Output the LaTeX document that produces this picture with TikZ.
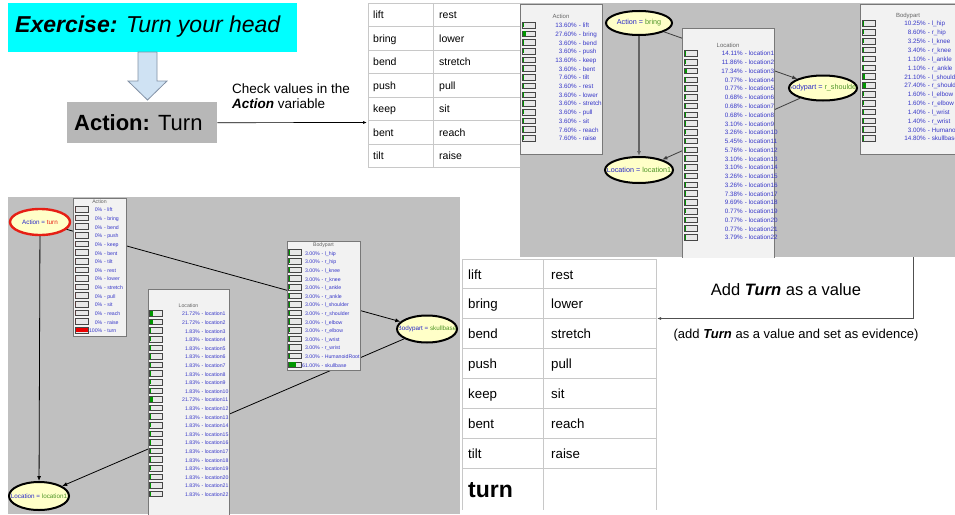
\documentclass[tikz,border=0pt]{standalone}
\usepackage{fontspec}
\setmainfont{Liberation Sans}
\usetikzlibrary{arrows.meta,shapes.geometric}

\definecolor{shotgray}{RGB}{192,192,192}
\definecolor{panelbg}{RGB}{242,242,242}
\definecolor{paneledge}{RGB}{120,120,120}
\definecolor{barbg}{RGB}{232,232,232}
\definecolor{baredge}{RGB}{70,70,70}
\definecolor{bargreen}{RGB}{0,150,0}
\definecolor{barred}{RGB}{235,0,0}
\definecolor{nodeyellow}{RGB}{255,255,200}
\definecolor{nblue}{RGB}{40,40,200}
\definecolor{ngreen}{RGB}{80,150,40}
\definecolor{nred}{RGB}{230,30,20}
\definecolor{pblue}{RGB}{55,55,200}
\definecolor{titlegray}{RGB}{100,100,100}
\definecolor{linkdark}{RGB}{60,60,60}
\definecolor{linkmid}{RGB}{100,100,100}
\definecolor{cyanbox}{RGB}{0,255,255}
\definecolor{arrowfill}{RGB}{207,226,243}
\definecolor{arrowedge}{RGB}{130,145,165}
\definecolor{boxgray}{RGB}{183,183,183}
\definecolor{tblline}{RGB}{200,200,200}
\definecolor{flowgray}{RGB}{80,80,80}

\newcommand\fsz[1]{\fontsize{#1}{#1}\selectfont}
\newcommand\tblue[1]{\textcolor{nblue}{#1}}
\newcommand\tgreen[1]{\textcolor{ngreen}{#1}}
\newcommand\tred[1]{\textcolor{nred}{#1}}

% probability panel frame: name, left, top, width, height
\newcommand\panelbox[5]{\node[panel,minimum width=#4pt,minimum height=#5pt] (#1) at (#2,#3) {};}

% panel rows: prefix, bar x, first row y, row step, value x, bar colour, list, text style
\newcommand\prows[8]{%
  \foreach \p/\n [count=\i from 0] in {#7}{%
    \pgfmathsetmacro\ry{#3+\i*#4}%
    \pgfmathsetmacro\bw{\p*12/100}%
    \draw[pbar] (#2,\ry-2.8) rectangle ++(13,5.6);
    \fill[#6] (#2+0.5,\ry-2.3) rectangle ++(\bw,4.6);
    \node[#8,anchor=mid east] (#1-v\i) at (#5,\ry) {\p\%};
    \node[#8,anchor=mid west] (#1-n\i) at (#5,\ry) {~-~\n};
  }}

% network node: name, x, y, width, height, extra style, label
\newcommand\enode[7]{%
  \node[bnode,#6,minimum width=#4pt,minimum height=#5pt] (#1) at (#2,#3) {};
  \pgfmathsetmacro\erx{#4/2-1.3}%
  \pgfmathsetmacro\ery{#5/2-1.3}%
  \begin{scope}
    \clip (#1.center) ellipse [x radius=\erx pt, y radius=\ery pt];
    \node[inner sep=0pt] (#1-t) at (#1.center) {#7};
  \end{scope}}

\begin{document}
\begin{tikzpicture}[x=1pt,y=-1pt,
  panel/.style={draw=paneledge,fill=panelbg,line width=0.8pt,inner sep=0pt,anchor=north west},
  pbar/.style={draw=baredge,fill=barbg,line width=0.5pt},
  pvalA/.style={font=\fsz{6.3},text=pblue,inner sep=0pt},
  pvalB/.style={font=\fsz{5.2},text=pblue,inner sep=0pt},
  ptitleA/.style={font=\fsz{6},text=titlegray,inner sep=0pt},
  ptitleB/.style={font=\fsz{5.2},text=titlegray,inner sep=0pt},
  bnode/.style={ellipse,draw=black,line width=2pt,fill=nodeyellow,inner sep=0pt},
  linkA/.style={draw=linkdark,line width=0.8pt},
  linkB/.style={draw=black,line width=0.8pt},
  arrowend/.style={-{Latex[length=5pt,width=4pt]}},
  tblA/.style={font=\fsz{10.5},inner sep=0pt,anchor=base west},
  tblB/.style={font=\fsz{13.3},inner sep=0pt,anchor=base west},
  grid/.style={draw=tblline,line width=0.8pt}]

\useasboundingbox (0,0) rectangle (955,514);
\fill[white] (0,0) rectangle (955,514);

% ---------- exercise header ----------
\node[fill=cyanbox,minimum width=289pt,minimum height=49pt,inner sep=0pt,anchor=north west] (exercise) at (8,3) {};
\node[font=\fsz{23},inner sep=0pt,anchor=base west] (exercise-t) at (15,32) {\textbf{\textit{Exercise:}} \textit{Turn your head}};
\draw[fill=arrowfill,draw=arrowedge,line width=0.8pt]
  (138,52) -- (157,52) -- (157,81) -- (167,81) -- (147.5,100) -- (128,81) -- (138,81) -- cycle;
\node[fill=boxgray,minimum width=150pt,minimum height=41pt,inner sep=0pt,anchor=north west] (actionbox) at (67,102) {};
\node[font=\fsz{22},inner sep=0pt,anchor=base west] (actionbox-t) at (74,130) {\textbf{Action:} Turn};
\node[font=\fsz{13.5},inner sep=0pt,anchor=base west] (check1) at (232,93) {Check values in the};
\node[font=\fsz{13.5},inner sep=0pt,anchor=base west] (check2) at (232,108) {\textbf{\textit{Action}} variable};
\coordinate (tabA-w) at (367,122.5);
\draw[line width=0.7pt,-{Latex[length=4pt,width=3pt]}] (actionbox.east) -- (tabA-w);

% ---------- first value table ----------
\foreach \y in {3,26.5,50,73.5,97,120.5,144,167.5} \draw[grid] (368,\y) -- (521,\y);
\foreach \x in {368,433,521} \draw[grid] (\x,3) -- (\x,167.5);
\foreach \a/\b [count=\r from 0] in {lift/rest,bring/lower,bend/stretch,push/pull,keep/sit,bent/reach,tilt/raise}{
  \node[tblA] (ta-\r-l) at (373,18.5+\r*23.5) {\a};
  \node[tblA] (ta-\r-r) at (439,18.5+\r*23.5) {\b};
}

% ---------- network before the change ----------
\begin{scope}
\clip (520,3) rectangle (955,257);
\fill[shotgray] (520,3) rectangle (955,257);
\enode{actA}{639}{23}{66}{24}{}{\fsz{7.2}\tblue{Action =} \tgreen{bring}}
\enode{locA}{639}{170}{68}{26}{}{\fsz{7.2}\tblue{Location =} \tgreen{location1}}
\enode{bodyA}{823}{88}{68}{25}{}{\fsz{7.2}\tblue{Bodypart =} \tgreen{r\_shoulder}}
\draw[linkA,draw=linkmid,line width=1.3pt,arrowend] (actA) -- (locA);
\draw[linkA,arrowend] (actA) -- (bodyA);
\draw[linkA,arrowend] (bodyA) -- (locA);
\panelbox{pA}{520}{4}{82}{150}
\node[ptitleA] (pA-title) at (561,16.5) {Action};
\prows{pA}{522}{25}{8.7}{577}{bargreen}{13.60/lift,27.60/bring,3.60/bend,3.60/push,13.60/keep,3.60/bent,7.60/tilt,3.60/rest,3.60/lower,3.60/stretch,3.60/pull,3.60/sit,7.60/reach,7.60/raise}{pvalA}
\panelbox{lA}{682}{28}{92}{240}
\node[ptitleA] (lA-title) at (728,45) {Location};
\prows{lA}{684}{53.3}{8.76}{743}{bargreen}{14.11/location1,11.86/location2,17.34/location3,0.77/location4,0.77/location5,0.68/location6,0.68/location7,0.68/location8,3.10/location9,3.26/location10,5.45/location11,5.76/location12,3.10/location13,3.10/location14,3.26/location15,3.26/location16,7.38/location17,9.69/location18,0.77/location19,0.77/location20,0.77/location21,3.79/location22}{pvalA}
\panelbox{bA}{860}{3.5}{97}{150}
\node[ptitleA] (bA-title) at (908,15.5) {Bodypart};
\prows{bA}{862}{23.3}{8.85}{926}{bargreen}{10.25/l\_hip,8.60/r\_hip,3.25/l\_knee,3.40/r\_knee,1.10/l\_ankle,1.10/r\_ankle,21.10/l\_shoulder,27.40/r\_shoulder,1.60/l\_elbow,1.60/r\_elbow,1.40/l\_wrist,1.40/r\_wrist,3.00/HumanoidRoot,14.80/skullbase}{pvalA}
\end{scope}

% ---------- network after adding the evidence ----------
\begin{scope}
\clip (8,197) rectangle (460,514);
\fill[shotgray] (8,197) rectangle (460,514);
\enode{actB}{40}{222}{60}{26}{draw=nred,line width=2.4pt}{\fsz{6.3}\tblue{Action =} \tred{turn}}
\enode{locB}{39}{496}{60}{28}{}{\fsz{6.3}\tblue{Location =} \tgreen{location1}}
\enode{bodyB}{427}{329}{60}{27}{}{\fsz{6.3}\tblue{Bodypart =} \tgreen{skullbase}}
\draw[linkB,arrowend] (actB) -- (locB);
\draw[linkB,arrowend] (actB) -- (bodyB);
\draw[linkB,arrowend] (bodyB) -- (locB);
\panelbox{pB}{73}{198}{53}{138}
\node[ptitleB] (pB-title) at (99.5,202) {Action};
\prows{pB}{75}{209.3}{8.62}{102.5}{barred}{0/lift,0/bring,0/bend,0/push,0/keep,0/bent,0/tilt,0/rest,0/lower,0/stretch,0/pull,0/sit,0/reach,0/raise,100/turn}{pvalB}
\panelbox{lB}{148}{289}{81}{240}
\node[ptitleB] (lB-title) at (188.5,305.5) {Location};
\prows{lB}{149.5}{313.3}{8.6}{200}{bargreen}{21.72/location1,21.72/location2,1.83/location3,1.83/location4,1.83/location5,1.83/location6,1.83/location7,1.83/location8,1.83/location9,1.83/location10,21.72/location11,1.83/location12,1.83/location13,1.83/location14,1.83/location15,1.83/location16,1.83/location17,1.83/location18,1.83/location19,1.83/location20,1.83/location21,1.83/location22}{pvalB}
\panelbox{bB}{287}{241}{73}{129}
\node[ptitleB] (bB-title) at (323.5,245) {Bodypart};
\prows{bB}{288.5}{252.5}{8.62}{320}{bargreen}{3.00/l\_hip,3.00/r\_hip,3.00/l\_knee,3.00/r\_knee,3.00/l\_ankle,3.00/r\_ankle,3.00/l\_shoulder,3.00/r\_shoulder,3.00/l\_elbow,3.00/r\_elbow,3.00/l\_wrist,3.00/r\_wrist,3.00/HumanoidRoot,61.00/skullbase}{pvalB}
\end{scope}

% ---------- second value table ----------
\foreach \y in {259,288.5,318.5,348,378,408,438,468} \draw[grid] (462,\y) -- (656,\y);
\foreach \x in {462,543,656} \draw[grid] (\x,259) -- (\x,510);
\foreach \a/\b [count=\r from 0] in {lift/rest,bring/lower,bend/stretch,push/pull,keep/sit,bent/reach,tilt/raise}{
  \node[tblB] (tb-\r-l) at (468,279+\r*29.9) {\a};
  \node[tblB] (tb-\r-r) at (551,279+\r*29.9) {\b};
}
\node[font=\fsz{23}\bfseries,inner sep=0pt,anchor=base west] (tb-turn) at (468,497) {turn};

% ---------- add-value step ----------
\coordinate (shotA-out) at (913,257);
\coordinate (tabB-e) at (657,318.5);
\draw[draw=flowgray,line width=0.9pt,-{Latex[length=4pt,width=3pt]}] (shotA-out) |- (tabB-e);
\node[font=\fsz{16.5},inner sep=0pt,anchor=base] (addlbl) at (786,295) {Add \textbf{\textit{Turn}} as a value};
\node[font=\fsz{13},inner sep=0pt,anchor=base] (addnote) at (796,338) {(add \textbf{\textit{Turn}} as a value and set as evidence)};

\end{tikzpicture}
\end{document}
